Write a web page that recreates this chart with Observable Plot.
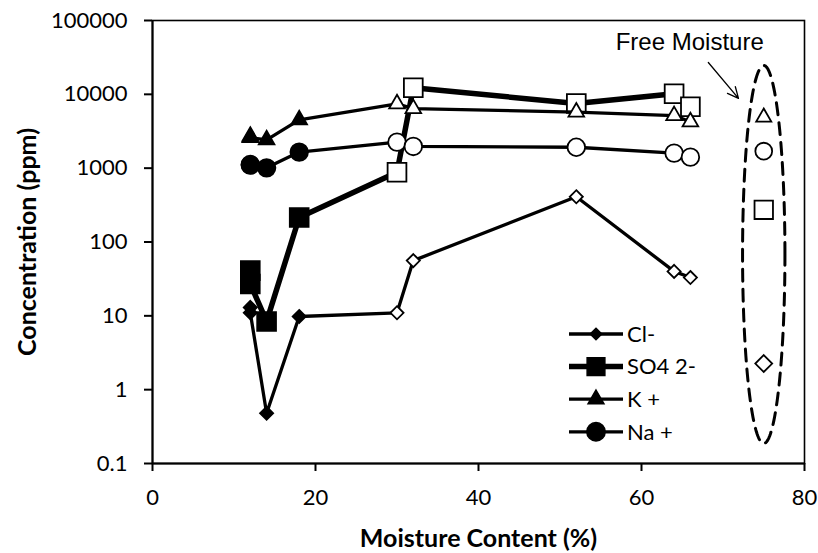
<!DOCTYPE html>
<html>
<head>
<meta charset="utf-8">
<script src="https://cdn.jsdelivr.net/npm/d3@7"></script>
<script src="https://cdn.jsdelivr.net/npm/@observablehq/plot@0.6"></script>
<style>
  body { margin: 0; background: #fff; }
  #chart svg { display: block; }
</style>
</head>
<body>
<div id="chart"></div>
<script>
// Pore-water ion concentrations versus moisture content (log scale)
const moisture = [12, 12, 14, 18, 30, 32, 52, 64, 66];
const chloride = [13, 11, 0.48, 9.8, 11, 56, 410, 40, 33];
const sulfate  = [41, 27, 8.4, 215, 880, 12300, 7500, 10200, 6800];
const potassium = [2700, 2600, 2420, 4520, 7450, 6400, 5750, 5150, 4250];
const sodium   = [1120, 1100, 1010, 1650, 2250, 1970, 1920, 1600, 1410];

// Free moisture sample
const freeMoistureX = 75;
const freeIons = ["Cl-", "SO4 2-", "K +", "Na +"];
const freeConc = [2.26, 273, 4900, 1700];

const xTicks = [0, 20, 40, 60, 80];
const yTicks = [0.1, 1, 10, 100, 1000, 10000, 100000];

// samples below this moisture are drawn with solid markers
const solidBelow = 20;

const series = [
  {name: "Cl-",    values: chloride,  symbol: "diamond2", r: 5.9,  freeR: 7.6,  legendR: 5.2, lineWidth: 3.3},
  {name: "SO4 2-", values: sulfate,   symbol: "square",   r: 10.6, freeR: 10.4, legendR: 10,  lineWidth: 5.5},
  {name: "K +",    values: potassium, symbol: "triangle", r: 5.8,  freeR: 5.6,  legendR: 5.9, lineWidth: 3.3},
  {name: "Na +",   values: sodium,    symbol: "circle",   r: 8.8,  freeR: 8.4,  legendR: 9.2, lineWidth: 3.3}
];

const font = "Lato, 'Open Sans', sans-serif";

const marks = [Plot.frame({stroke: "black", strokeWidth: 1.6})];
for (const s of series) {
  const rows = moisture.map((m, i) => ({x: m, y: s.values[i], solid: m < solidBelow}));
  marks.push(Plot.line(rows, {x: "x", y: "y", stroke: "black", strokeWidth: s.lineWidth}));
  marks.push(Plot.dot(rows, {
    x: "x", y: "y", symbol: () => s.symbol, r: s.r,
    fill: d => d.solid ? "black" : "white", stroke: "black", strokeWidth: 1.8
  }));
}

// free moisture markers, one hollow marker per ion
freeIons.forEach((ion, i) => {
  const s = series.find(d => d.name === ion);
  marks.push(Plot.dot([{x: freeMoistureX, y: freeConc[i]}], {
    x: "x", y: "y", symbol: () => s.symbol, r: s.freeR, fill: "white", stroke: "black", strokeWidth: 1.8
  }));
});

// dashed ellipse enclosing the free moisture sample (drawn in x / log10(y) space)
const ellCx = 75, ellRx = 2.6, ellCy = 1.831, ellRy = 2.56;
const ellipse = d3.range(0, 201).map(k => {
  const t = (k / 200) * 2 * Math.PI;
  return {x: ellCx + ellRx * Math.cos(t), y: Math.pow(10, ellCy + ellRy * Math.sin(t))};
});
marks.push(Plot.line(ellipse, {x: "x", y: "y", stroke: "black", strokeWidth: 3, strokeDasharray: "12,8"}));

// annotation
marks.push(Plot.arrow([{x1: 68.2, y1: 27000, x2: 71.9, y2: 8800}], {
  x1: "x1", y1: "y1", x2: "x2", y2: "y2", stroke: "black", strokeWidth: 1.3, headLength: 14, headAngle: 50
}));
marks.push(Plot.text(["Free Moisture"], {
  x: () => freeMoistureX, frameAnchor: "top", lineAnchor: "top", textAnchor: "end", dy: 12,
  fontSize: 24, fontFamily: "'Liberation Sans', Arial, sans-serif", fill: "black"
}));

// axes
marks.push(Plot.ruleX([0], {stroke: "black", strokeWidth: 2}));
marks.push(Plot.ruleY([0.1], {stroke: "black", strokeWidth: 2}));
marks.push(Plot.axisX({ticks: xTicks, tickSize: 8, tickPadding: 18, fontSize: 22, label: null, strokeWidth: 2}));
marks.push(Plot.axisY({ticks: yTicks, tickSize: 8, tickPadding: 17, fontSize: 22, label: null, strokeWidth: 2,
  tickFormat: d => String(d)}));
marks.push(Plot.text(["Concentration (ppm)"], {
  frameAnchor: "left", textAnchor: "middle", lineAnchor: "middle", dx: -125, rotate: -90,
  fontSize: 25, fontWeight: "bold", fill: "black"
}));
marks.push(Plot.text(["Moisture Content (%)"], {
  frameAnchor: "bottom", textAnchor: "middle", lineAnchor: "middle", dy: 75,
  fontSize: 25, fontWeight: "bold", fill: "black"
}));

const chart = Plot.plot({
  width: 818,
  height: 553,
  marginLeft: 152,
  marginRight: 14,
  marginTop: 20,
  marginBottom: 90,
  style: {fontFamily: font, color: "black", background: "white"},
  x: {domain: [0, 80]},
  y: {type: "log", domain: [0.1, 100000]},
  marks
});

// legend
const symbols = {diamond2: d3.symbolDiamond2, square: d3.symbolSquare, triangle: d3.symbolTriangle, circle: d3.symbolCircle};
const legend = d3.select(chart).append("g").attr("transform", "translate(569,334)");
series.forEach((s, i) => {
  const g = legend.append("g").attr("transform", `translate(0,${i * 32.6})`);
  g.append("line").attr("x1", 0).attr("x2", 54).attr("stroke", "black").attr("stroke-width", s.lineWidth);
  g.append("path").attr("transform", "translate(27,0)")
    .attr("d", d3.symbol(symbols[s.symbol], s.legendR * s.legendR * Math.PI)())
    .attr("fill", "black").attr("stroke", "black").attr("stroke-width", 1.5);
  g.append("text").attr("x", 58).attr("y", 0).attr("dy", "0.35em").attr("text-anchor", "start")
    .attr("font-size", 22).attr("font-family", font).attr("fill", "black").text(s.name);
});

document.getElementById("chart").append(chart);
</script>
</body>
</html>
